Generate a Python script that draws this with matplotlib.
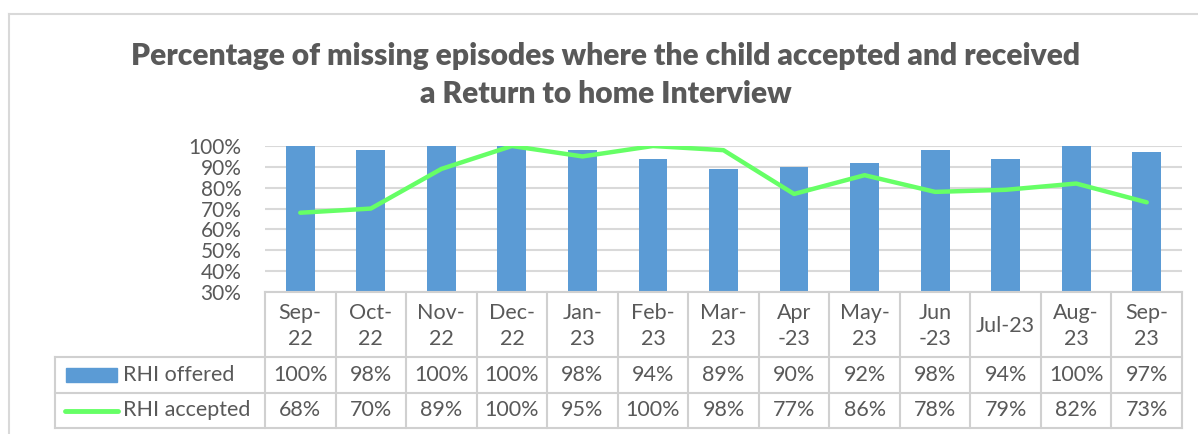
import matplotlib.pyplot as plt
from matplotlib.lines import Line2D
from matplotlib.patches import Rectangle
import numpy as np

plt.rcParams['font.family'] = ['Lato', 'DejaVu Sans']

months = ['Sep-\n22', 'Oct-\n22', 'Nov-\n22', 'Dec-\n22', 'Jan-\n23', 'Feb-\n23', 'Mar-\n23',
          'Apr\n-23', 'May-\n23', 'Jun\n-23', 'Jul-23', 'Aug-\n23', 'Sep-\n23']
rhi_offered = [100, 98, 100, 100, 98, 94, 89, 90, 92, 98, 94, 100, 97]
rhi_accepted = [68, 70, 89, 100, 95, 100, 98, 77, 86, 78, 79, 82, 73]
series_names = ['RHI offered', 'RHI accepted']

bar_color = '#5B9BD5'
line_color = '#66FF66'
grid_color = '#D9D9D9'
text_color = '#595959'

W, H = 1198, 434
fig = plt.figure(figsize=(W / 100, H / 100), dpi=100)

# outer chart border (left and top only visible)
fig.add_artist(Line2D([9 / W, 9 / W], [0, 1 - 14 / H], color=grid_color, lw=1.5))
fig.add_artist(Line2D([9 / W, 1], [1 - 14 / H, 1 - 14 / H], color=grid_color, lw=1.5))

fig.text(606 / W, 1 - 75 / H,
         'Percentage of missing episodes where the child accepted and received\na Return to home Interview',
         ha='center', va='center', fontsize=21.6, fontweight='heavy', color=text_color, linespacing=1.4)

x = np.arange(len(months))
ax = fig.add_axes([265 / W, 1 - 292 / H, (1182 - 265) / W, (292 - 146) / H])
ax.bar(x, np.array(rhi_offered) / 100, width=0.41, color=bar_color, zorder=2)
ax.plot(x, np.array(rhi_accepted) / 100, color=line_color, lw=3.2, solid_capstyle='round', zorder=3)
ax.set_xlim(-0.5, len(months) - 0.5)
ax.set_ylim(0.3, 1.0)
ax.set_yticks(np.arange(0.3, 1.01, 0.1))
ax.set_yticklabels([f'{int(round(v * 100))}%' for v in np.arange(0.3, 1.01, 0.1)])
ax.tick_params(axis='y', length=0, pad=17, labelsize=15, labelcolor=text_color)
ax.set_xticks([])
ax.grid(axis='y', color=grid_color, lw=1.5, zorder=0)
for s in ax.spines.values():
    s.set_visible(False)

# data table underneath
left_px = 55
col_w = (1182 - 265) / len(months)
xl = -0.5 - (265 - left_px) / col_w
tab = fig.add_axes([left_px / W, 1 - 428 / H, (1182 - left_px) / W, (428 - 292) / H])
tab.set_xlim(xl, len(months) - 0.5)
tab.set_ylim(1, 0)
tab.axis('off')
r1, r2 = 65 / 136, 101 / 136

lc = '#D0D0D0'
for k in range(len(months) + 1):
    tab.plot([k - 0.5, k - 0.5], [0, 1], color=lc, lw=1.5, clip_on=False)
tab.plot([xl, xl], [r1, 1], color=lc, lw=1.5, clip_on=False)
tab.plot([-0.5, len(months) - 0.5], [0, 0], color=lc, lw=1.5, clip_on=False)
for yy in (r1, r2, 1):
    tab.plot([xl, len(months) - 0.5], [yy, yy], color=lc, lw=1.5, clip_on=False)

fs = 15.5
for i, m in enumerate(months):
    tab.text(i, r1 / 2 + 0.01, m, ha='center', va='center', fontsize=fs,
             color=text_color, linespacing=1.4)
    tab.text(i, (r1 + r2) / 2, f'{rhi_offered[i]}%', ha='center', va='center',
             fontsize=fs, color=text_color)
    tab.text(i, (r2 + 1) / 2, f'{rhi_accepted[i]}%', ha='center', va='center',
             fontsize=fs, color=text_color)

# legend keys in the row label column
tab.add_patch(Rectangle((xl + 11 / col_w, (r1 + r2) / 2 - 0.05), 51 / col_w, 0.1,
                        color=bar_color, clip_on=False))
tab.plot([xl + 10 / col_w, xl + 63 / col_w], [(r2 + 1) / 2, (r2 + 1) / 2], color=line_color,
         lw=3.5, solid_capstyle='round', clip_on=False)
tab.text(xl + 68 / col_w, (r1 + r2) / 2, series_names[0], ha='left', va='center',
         fontsize=fs, color=text_color)
tab.text(xl + 68 / col_w, (r2 + 1) / 2, series_names[1], ha='left', va='center',
         fontsize=fs, color=text_color)

fig.savefig('out.png', dpi=100)
